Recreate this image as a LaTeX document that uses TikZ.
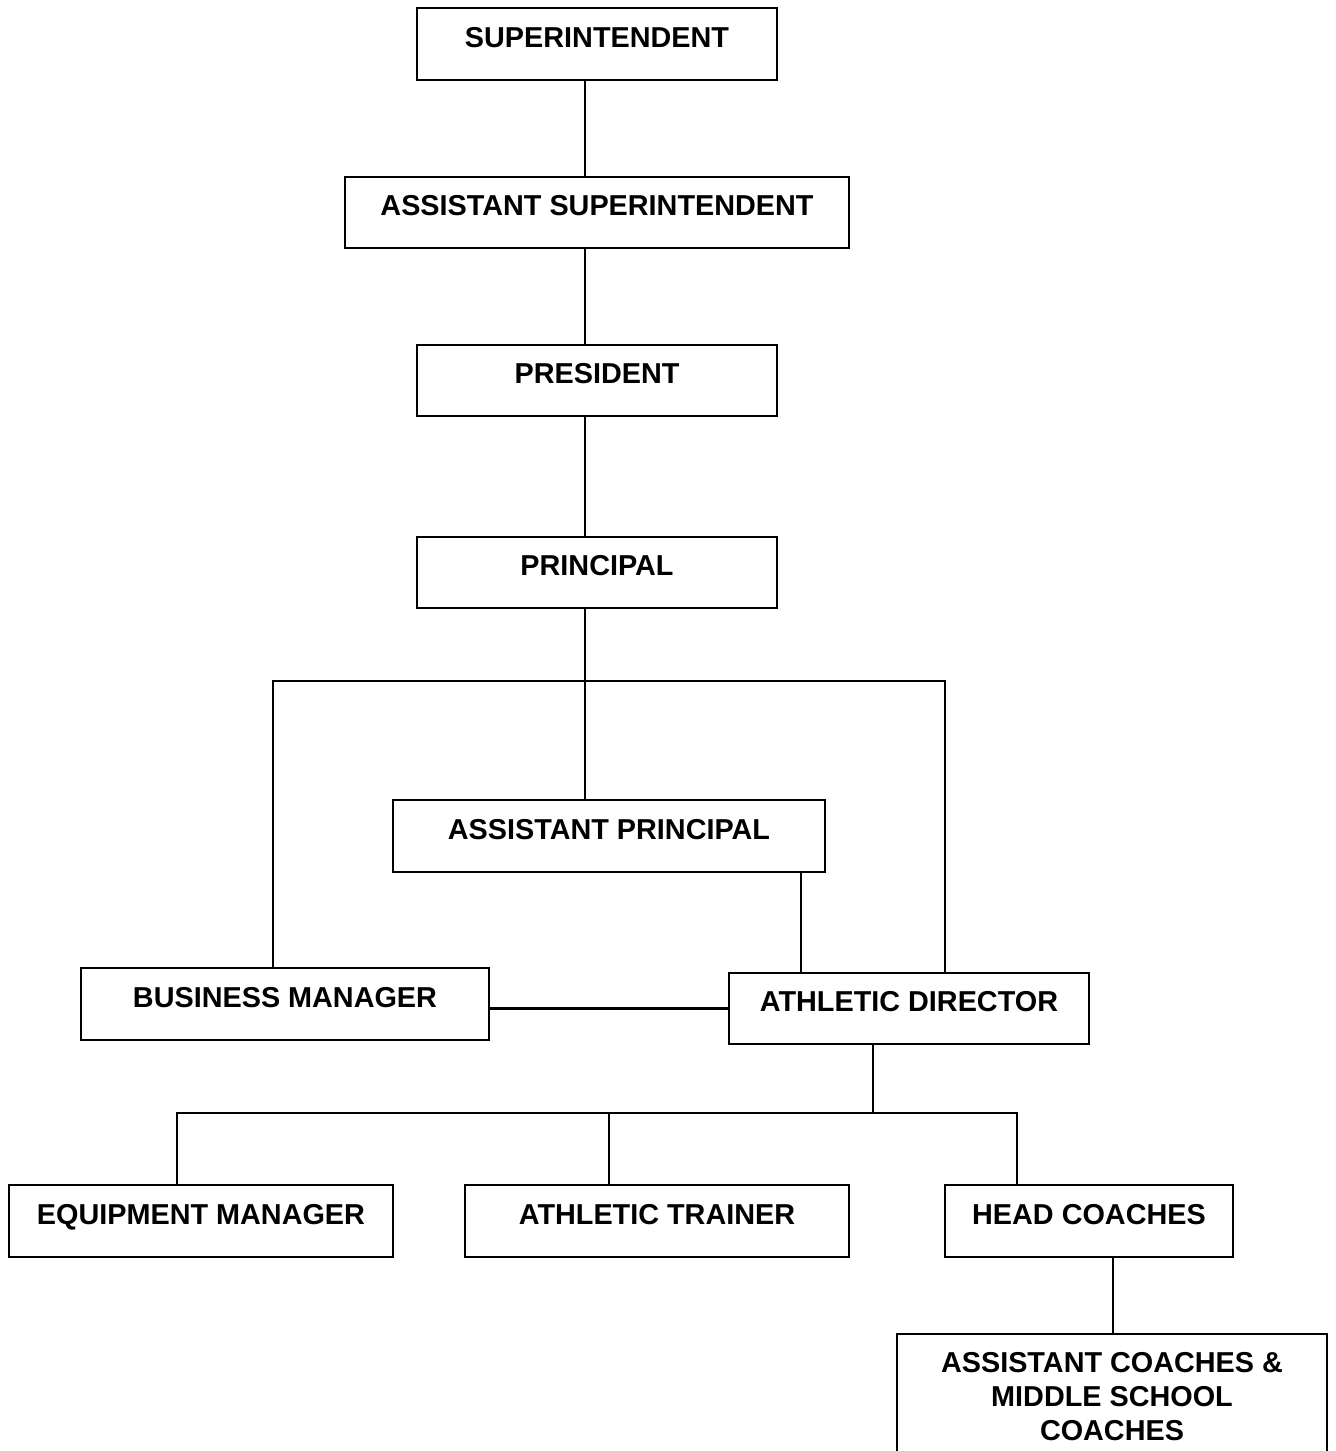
\documentclass[tikz,border=0pt]{standalone}
\usepackage{fontspec}
\setmainfont{Liberation Sans}

\begin{document}
\begin{tikzpicture}[x=0.5pt, y=-0.5pt,
	unit/.style={draw, line width=1.1pt, inner sep=0pt, font=\fontsize{14.4}{17}\selectfont\bfseries},
	post/.style={unit, text height=10pt, text depth=7pt},
	link/.style={line width=1.1pt}]

	\useasboundingbox (0,0) rectangle (1335,1451);

	% Offices

	\node [post, minimum width=180pt, minimum height=36pt] (sup) at (597,44) {SUPERINTENDENT};
	\node [post, minimum width=252pt, minimum height=35.5pt] (asup) at (597,212.5) {ASSISTANT SUPERINTENDENT};
	\node [post, minimum width=180pt, minimum height=35.5pt] (pres) at (597,380.5) {PRESIDENT};
	\node [post, minimum width=180pt, minimum height=35.5pt] (princ) at (597,572.5) {PRINCIPAL};
	\node [post, minimum width=216pt, minimum height=36pt] (aprinc) at (609,836) {ASSISTANT PRINCIPAL};
	\node [post, minimum width=204pt, minimum height=36pt] (bman) at (285,1004) {BUSINESS MANAGER};
	\node [post, minimum width=180pt, minimum height=35.5pt] (ad) at (909,1008.5) {ATHLETIC DIRECTOR};
	\node [post, minimum width=192pt, minimum height=36pt] (eqm) at (201,1221) {EQUIPMENT MANAGER};
	\node [post, minimum width=192pt, minimum height=36pt] (trainer) at (657,1221) {ATHLETIC TRAINER};
	\node [post, minimum width=144pt, minimum height=36pt] (hc) at (1089,1221) {HEAD COACHES};
	\node [unit, align=center, inner ysep=9pt, minimum width=215pt, anchor=north] (acc) at (1112,1333)
		{ASSISTANT COACHES \&\\ MIDDLE SCHOOL\\ COACHES};

	% Junctions

	\coordinate (spine) at (585,681);
	\coordinate (fork) at (873,1113);

	% Lines

	\begin{scope}[link]

		\draw (sup.south -| spine) -- (asup.north -| spine);
		\draw (asup.south -| spine) -- (pres.north -| spine);
		\draw (pres.south -| spine) -- (princ.north -| spine);
		\draw (princ.south -| spine) -- (aprinc.north -| spine);
		\draw ([xshift=-6pt]bman.north) |- (spine) -| ([xshift=18pt]ad.north);
		\draw ([xshift=-54pt]ad.north) -- ([xshift=-54pt]ad.north |- aprinc.south);
		\draw (ad.west) -- (ad.west -| bman.east);
		\draw (ad.south -| fork) -- (fork);
		\draw ([xshift=-12pt]eqm.north) |- (fork) -| ([xshift=-36pt]hc.north);
		\draw ([xshift=-24pt]trainer.north) -- ([xshift=-24pt]trainer.north |- fork);
		\draw ([xshift=12pt]hc.south) -- ([xshift=12pt]hc.south |- acc.north);

	\end{scope}

\end{tikzpicture}
\end{document}
